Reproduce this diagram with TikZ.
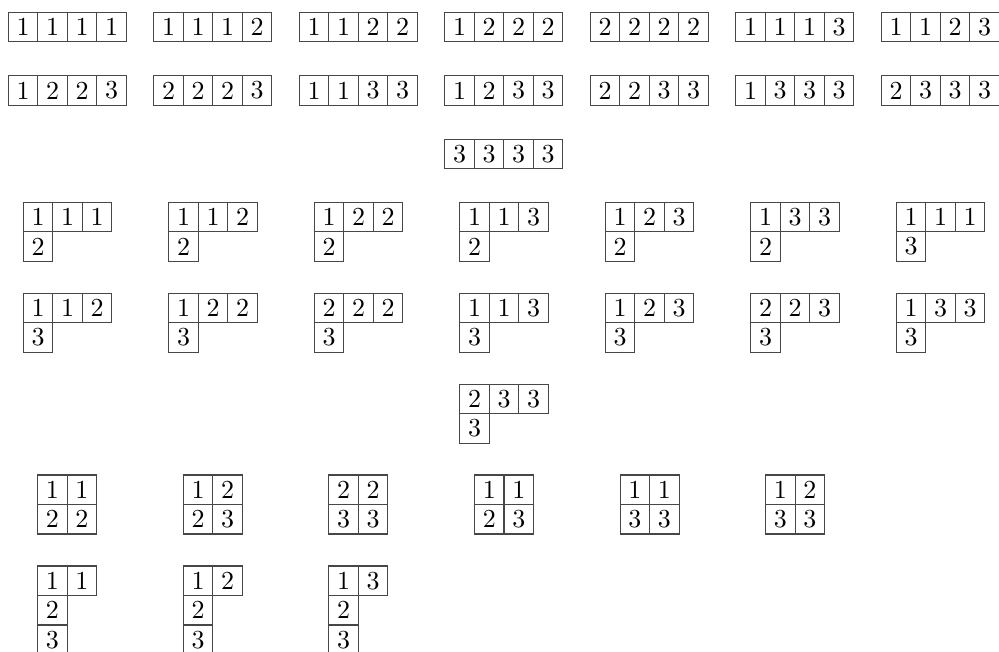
\documentclass[tikz,border=0pt]{standalone}
\begin{document}
\begin{tikzpicture}[x=0.385pt,y=-0.385pt,
  cellbox/.style={draw=black!72, line width=0.45pt, rectangle, minimum width=11.36pt, minimum height=11.36pt, inner sep=0pt, outer sep=0pt, anchor=center, font=\fontsize{10}{12}\selectfont}]
\useasboundingbox (0,0) rectangle (999,651);
\def\cs{29.5}
\newcommand\ytab[4]{%
  \foreach \row [count=\r from 0] in {#4} {
    \foreach \e [count=\c from 0] in \row {
      \node[cellbox] (#1-\r-\c) at ({#2+(\c+0.5)*\cs},{#3+(\r+0.5)*\cs}) {\e};
    }
  }
}
% Section 1: one-row tableaux
\def\dx{145.5}
\ytab{a1}{8.3+0*\dx}{12.3}{{1,1,1,1}}
\ytab{a2}{8.3+1*\dx}{12.3}{{1,1,1,2}}
\ytab{a3}{8.3+2*\dx}{12.3}{{1,1,2,2}}
\ytab{a4}{8.3+3*\dx}{12.3}{{1,2,2,2}}
\ytab{a5}{8.3+4*\dx}{12.3}{{2,2,2,2}}
\ytab{a6}{8.3+5*\dx}{12.3}{{1,1,1,3}}
\ytab{a7}{8.3+6*\dx}{12.3}{{1,1,2,3}}
\ytab{b1}{8.3+0*\dx}{75.8}{{1,2,2,3}}
\ytab{b2}{8.3+1*\dx}{75.8}{{2,2,2,3}}
\ytab{b3}{8.3+2*\dx}{75.8}{{1,1,3,3}}
\ytab{b4}{8.3+3*\dx}{75.8}{{1,2,3,3}}
\ytab{b5}{8.3+4*\dx}{75.8}{{2,2,3,3}}
\ytab{b6}{8.3+5*\dx}{75.8}{{1,3,3,3}}
\ytab{b7}{8.3+6*\dx}{75.8}{{2,3,3,3}}
\ytab{c4}{8.3+3*\dx}{139.3}{{3,3,3,3}}
% Section 2: hooks (3,1)
\ytab{d1}{23.3+0*\dx}{202.3}{{1,1,1},{2}}
\ytab{d2}{23.3+1*\dx}{202.3}{{1,1,2},{2}}
\ytab{d3}{23.3+2*\dx}{202.3}{{1,2,2},{2}}
\ytab{d4}{23.3+3*\dx}{202.3}{{1,1,3},{2}}
\ytab{d5}{23.3+4*\dx}{202.3}{{1,2,3},{2}}
\ytab{d6}{23.3+5*\dx}{202.3}{{1,3,3},{2}}
\ytab{d7}{23.3+6*\dx}{202.3}{{1,1,1},{3}}
\ytab{e1}{23.3+0*\dx}{293.3}{{1,1,2},{3}}
\ytab{e2}{23.3+1*\dx}{293.3}{{1,2,2},{3}}
\ytab{e3}{23.3+2*\dx}{293.3}{{2,2,2},{3}}
\ytab{e4}{23.3+3*\dx}{293.3}{{1,1,3},{3}}
\ytab{e5}{23.3+4*\dx}{293.3}{{1,2,3},{3}}
\ytab{e6}{23.3+5*\dx}{293.3}{{2,2,3},{3}}
\ytab{e7}{23.3+6*\dx}{293.3}{{1,3,3},{3}}
\ytab{f4}{23.3+3*\dx}{384.3}{{2,3,3},{3}}
% Section 3
\def\ex{145.6}
\ytab{g1}{37.7+0*\ex}{475}{{1,1},{2,2}}
\ytab{g2}{37.7+1*\ex}{475}{{1,2},{2,3}}
\ytab{g3}{37.7+2*\ex}{475}{{2,2},{3,3}}
\ytab{g4}{37.7+3*\ex}{475}{{1,1},{2,3}}
\ytab{g5}{37.7+4*\ex}{475}{{1,1},{3,3}}
\ytab{g6}{37.7+5*\ex}{475}{{1,2},{3,3}}
\ytab{h1}{37.7+0*\ex}{566}{{1,1},{2},{3}}
\ytab{h2}{37.7+1*\ex}{566}{{1,2},{2},{3}}
\ytab{h3}{37.7+2*\ex}{566}{{1,3},{2},{3}}
\end{tikzpicture}
\end{document}
